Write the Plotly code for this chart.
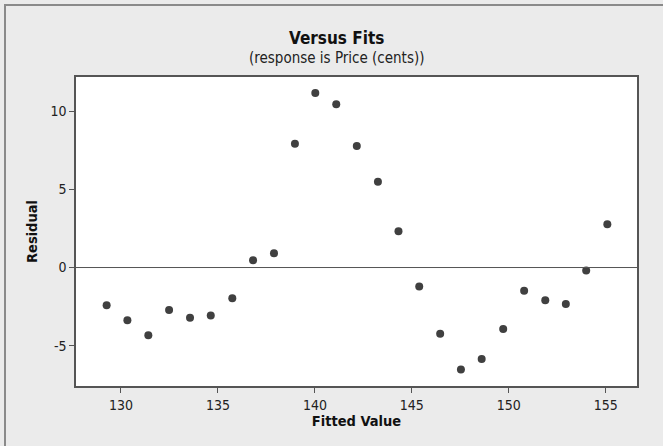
import plotly.graph_objects as go

fitted = [129.26, 130.33, 131.41, 132.48, 133.56, 134.63, 135.74, 136.81, 137.89, 138.97,
          140.02, 141.10, 142.16, 143.25, 144.31, 145.38, 146.46, 147.53, 148.60, 149.71,
          150.79, 151.88, 152.94, 153.99, 155.08]
residual = [-2.41, -3.37, -4.33, -2.71, -3.22, -3.07, -1.96, 0.47, 0.91, 7.92,
            11.16, 10.45, 7.77, 5.49, 2.32, -1.21, -4.24, -6.52, -5.86, -3.94,
            -1.49, -2.09, -2.34, -0.19, 2.77]
x_ticks = [130, 135, 140, 145, 150, 155]
y_ticks = [-5, 0, 5, 10]
y_tick_labels = ["-5", "0", "5", "10"]

FONT = "DejaVu Sans Condensed"
W, H = 663, 446
L, R, T, B = 76, 26, 77, 60
pw, ph = W - L - R, H - T - B

fig = go.Figure()
fig.add_trace(go.Scatter(
    x=fitted, y=residual, mode="markers",
    marker=dict(size=8, color="#404040"),
    showlegend=False, hoverinfo="x+y"))

fig.add_hline(y=0, line=dict(color="#555555", width=1))

# outer frame
fig.add_shape(type="rect", xref="paper", yref="paper",
              x0=(5 - L) / pw, x1=3, y0=-3, y1=(H - B - 5) / ph,
              line=dict(color="#8a8a8a", width=2), layer="below")

fig.add_annotation(text="<b>Versus Fits</b>", xref="paper", yref="paper",
                   x=(336 - L) / pw, y=(H - B - 38) / ph, showarrow=False,
                   xanchor="center", yanchor="middle",
                   font=dict(family=FONT, size=17, color="#111111"))
fig.add_annotation(text="(response is Price (cents))", xref="paper", yref="paper",
                   x=(336 - L) / pw, y=(H - B - 58) / ph, showarrow=False,
                   xanchor="center", yanchor="middle",
                   font=dict(family=FONT, size=15, color="#222222"))

axis_common = dict(showgrid=False, zeroline=False, showline=True, mirror=True,
                   linecolor="#555555", linewidth=1.5, ticks="outside", ticklen=5,
                   tickcolor="#555555", tickfont=dict(family=FONT, size=14, color="#222222"))

fig.update_xaxes(range=[127.68, 156.61], tickvals=x_ticks,
                 title=dict(text="<b>Fitted Value</b>", standoff=3,
                            font=dict(family=FONT, size=14.5, color="#111111")),
                 **axis_common)
fig.update_yaxes(range=[-7.58, 12.19], tickvals=y_ticks, ticktext=y_tick_labels,
                 title=dict(text="<b>Residual</b>", standoff=9,
                            font=dict(family=FONT, size=14.5, color="#111111")),
                 **axis_common)

fig.update_layout(width=W, height=H, margin=dict(l=L, r=R, t=T, b=B),
                  paper_bgcolor="#ebebeb", plot_bgcolor="#ffffff")

fig.write_html("out.html", config={"displayModeBar": False},
               post_script="document.body.style.margin='0';document.body.style.overflow='hidden';")
